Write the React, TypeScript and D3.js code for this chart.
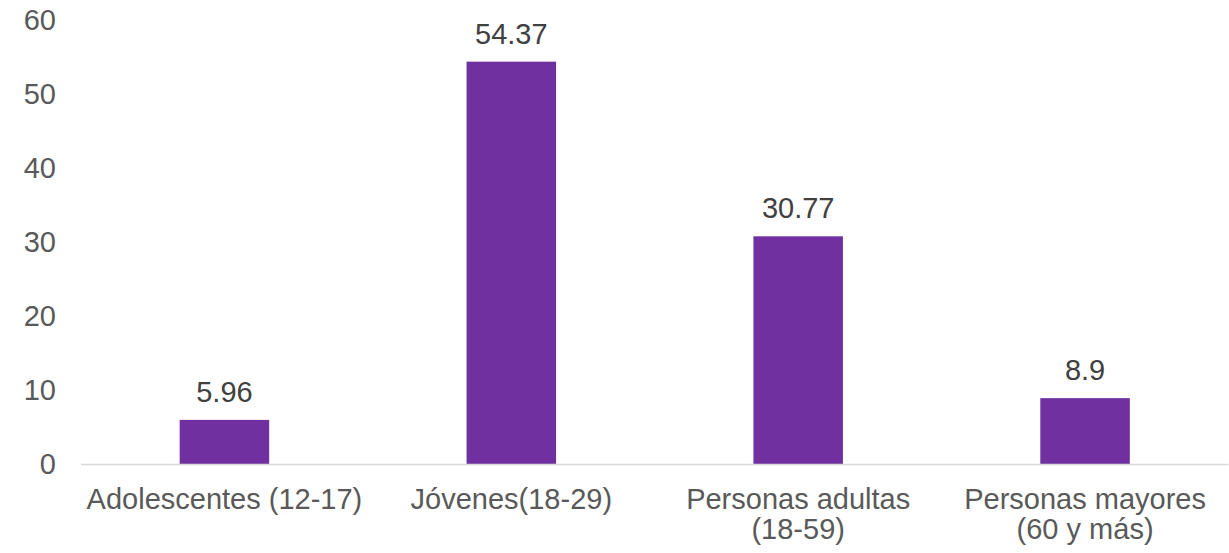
import React, { useEffect, useRef } from 'react';
import * as d3 from 'd3';

const categories = [
  ['Adolescentes (12-17)'],
  ['Jóvenes(18-29)'],
  ['Personas adultas', '(18-59)'],
  ['Personas mayores', '(60 y más)'],
];
const values = [5.96, 54.37, 30.77, 8.9];
const valueLabels = ['5.96', '54.37', '30.77', '8.9'];
const yTicks = [0, 10, 20, 30, 40, 50, 60];

export default function App() {
  const svgRef = useRef<SVGSVGElement>(null);

  useEffect(() => {
    if (!svgRef.current) return;
    const width = 1229;
    const height = 553;
    const left = 81;
    const right = 1228.5;
    const top = 20;
    const bottom = 464;
    const font = '"Liberation Sans", Arial, sans-serif';

    const svg = d3.select(svgRef.current);
    svg.selectAll('*').remove();

    const x = d3.scaleBand<number>()
      .domain(d3.range(values.length))
      .range([left, right])
      .paddingInner(0.688)
      .paddingOuter(0.344);

    const y = d3.scaleLinear().domain([0, 60]).range([bottom, top]);

    // y tick labels
    svg.append('g')
      .selectAll('text')
      .data(yTicks)
      .join('text')
      .attr('x', 56)
      .attr('y', d => y(d))
      .attr('dy', '0.35em')
      .attr('text-anchor', 'end')
      .attr('fill', '#595959')
      .style('font-family', font)
      .style('font-size', '29px')
      .text(d => d);

    // bars
    svg.append('g')
      .selectAll('rect')
      .data(values)
      .join('rect')
      .attr('x', (_, i) => x(i)!)
      .attr('y', d => y(d))
      .attr('width', x.bandwidth())
      .attr('height', d => bottom - y(d))
      .attr('fill', '#7030A0');

    // axis line
    svg.append('line')
      .attr('x1', left)
      .attr('x2', right)
      .attr('y1', bottom + 0.5)
      .attr('y2', bottom + 0.5)
      .attr('stroke', '#d9d9d9')
      .attr('stroke-width', 1.5);

    // data labels
    svg.append('g')
      .selectAll('text')
      .data(values)
      .join('text')
      .attr('x', (_, i) => x(i)! + x.bandwidth() / 2)
      .attr('y', d => y(d) - 18)
      .attr('text-anchor', 'middle')
      .attr('fill', '#404040')
      .style('font-family', font)
      .style('font-size', '29px')
      .text((_, i) => valueLabels[i]);

    // category labels
    const cat = svg.append('g')
      .selectAll('text')
      .data(categories)
      .join('text')
      .attr('x', (_, i) => x(i)! + x.bandwidth() / 2)
      .attr('y', 509)
      .attr('text-anchor', 'middle')
      .attr('fill', '#595959')
      .style('font-family', font)
      .style('font-size', '29px');
    cat.each(function (lines) {
      const t = d3.select(this);
      const cx = t.attr('x');
      lines.forEach((line, j) => {
        t.append('tspan')
          .attr('x', cx)
          .attr('dy', j === 0 ? 0 : 30)
          .text(line);
      });
    });

    svg.attr('width', width).attr('height', height);
  }, []);

  return (
    <div style={{ position: 'absolute', left: 0, top: 0 }}>
      <svg ref={svgRef} width={1229} height={553} style={{ display: 'block', background: '#fff' }} />
    </div>
  );
}
